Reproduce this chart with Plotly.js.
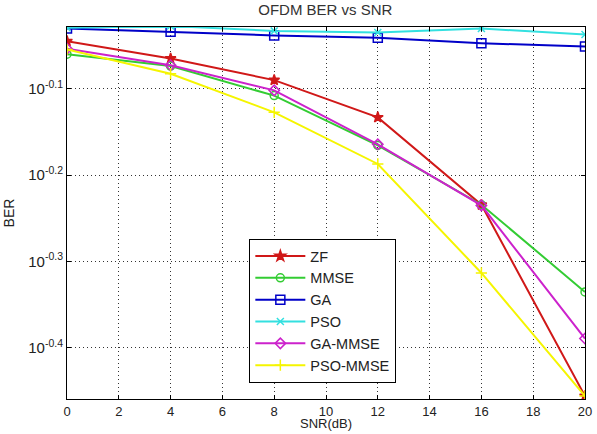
<!DOCTYPE html>
<html><head><meta charset="utf-8">
<script src="https://cdn.plot.ly/plotly-3.0.1.min.js"></script>
<style>html,body{margin:0;padding:0;background:#fff}</style>
</head><body><div id="plot" style="width:597px;height:434px"></div>
<script>
const snr = [0, 4, 8, 12, 16, 20];
const zf = [0.902, 0.861, 0.813, 0.736, 0.583, 0.350];
const mmse = [0.871, 0.844, 0.780, 0.683, 0.583, 0.462];
const ga = [0.933, 0.925, 0.916, 0.910, 0.897, 0.889];
const pso = [0.935, 0.939, 0.927, 0.923, 0.933, 0.918];
const gaMmse = [0.884, 0.846, 0.791, 0.685, 0.582, 0.408];
const psoMmse = [0.882, 0.827, 0.746, 0.650, 0.486, 0.350];
const yTickExp = [-0.4, -0.3, -0.2, -0.1];
const yTickText = yTickExp.map(e => '10<sup>' + e + '</sup>');
const xTicks = [0, 2, 4, 6, 8, 10, 12, 14, 16, 18, 20];

function tr(name, y, color, symbol, size) {
  return {x: snr, y: y, name: name, type: 'scatter', mode: 'lines+markers',
    line: {color: color, width: 2},
    marker: {symbol: symbol, size: size, color: color, line: {color: color, width: 1.5}}};
}
const data = [
  tr('ZF', zf, '#d01818', 'star', 8),
  tr('MMSE', mmse, '#33cc33', 'circle-open', 8),
  tr('GA', ga, '#0000c8', 'square-open', 9),
  tr('PSO', pso, '#33e0e0', 'x-thin-open', 7),
  tr('GA-MMSE', gaMmse, '#cc22cc', 'diamond-open', 8),
  tr('PSO-MMSE', psoMmse, '#f5f500', 'cross-thin-open', 8)
];
const layout = {
  width: 597, height: 434,
  margin: {l: 67, r: 12, t: 27, b: 35},
  paper_bgcolor: '#fff', plot_bgcolor: '#fff',
  font: {family: 'Liberation Sans, Arial, sans-serif', size: 14, color: '#222'},
  title: {text: 'OFDM BER vs SNR', x: 0.545, xanchor: 'center', y: 0.99, yanchor: 'top', font: {size: 15, color: '#333'}},
  showlegend: true,
  legend: {x: 0.352, y: 0.43, xanchor: 'left', yanchor: 'top', bgcolor: '#fff', bordercolor: '#000', borderwidth: 1,
    font: {size: 14.5, color: '#222'}, tracegroupgap: 0, itemwidth: 50},
  annotations: [{text: 'SNR(dB)', xref: 'paper', yref: 'paper', x: 0.5, y: -0.0914, xanchor: 'center', yanchor: 'bottom',
    showarrow: false, font: {size: 13, color: '#222'}}],
  xaxis: {range: [0, 20], tickvals: xTicks, ticks: 'inside', ticklen: 4, tickcolor: '#000',
    showline: true, linecolor: '#000', linewidth: 1, mirror: 'ticks',
    showgrid: true, gridcolor: '#333', griddash: '1px,3px', gridwidth: 1, zeroline: false,
    tickfont: {size: 13}},
  yaxis: {type: 'log', range: [-0.4594, -0.0284], tickvals: yTickExp.map(e => Math.pow(10, e)), ticktext: yTickText,
    ticks: 'inside', ticklen: 4, tickcolor: '#000',
    showline: true, linecolor: '#000', linewidth: 1, mirror: 'ticks',
    showgrid: true, gridcolor: '#333', griddash: '1px,3px', gridwidth: 1, zeroline: false,
    title: {text: 'BER', standoff: 10, font: {size: 14}}, tickfont: {size: 15}}
};
Plotly.newPlot('plot', data, layout, {displayModeBar: false, staticPlot: true});
</script></body></html>
